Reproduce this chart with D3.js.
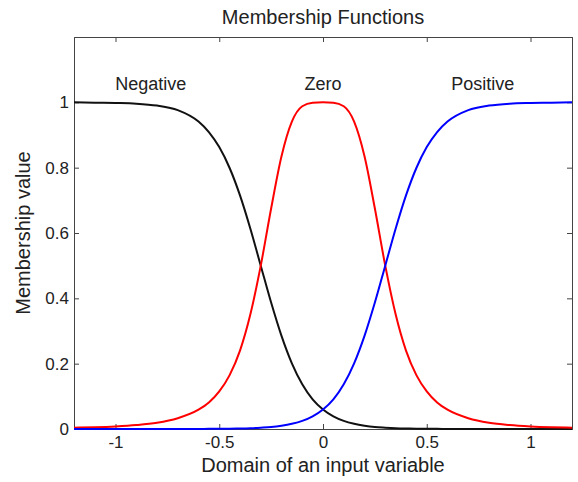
<!DOCTYPE html>
<html>
<head>
<meta charset="utf-8">
<script src="https://cdn.jsdelivr.net/npm/d3@7"></script>
<style>
  body { margin: 0; background: #fff; }
  text { font-family: "Liberation Sans", Arial, sans-serif; fill: #222; }
</style>
</head>
<body>
<div id="chart"></div>
<script>
// sample points along the input domain
var xValues = [-1.2, -1.1, -1.0, -0.9, -0.8, -0.7, -0.6, -0.55, -0.5, -0.45, -0.4, -0.35, -0.3, -0.25, -0.2, -0.15, -0.1, -0.05,
  0, 0.05, 0.1, 0.15, 0.2, 0.25, 0.3, 0.35, 0.4, 0.45, 0.5, 0.55, 0.6, 0.7, 0.8, 0.9, 1.0, 1.1, 1.2];

// membership values
var negativeValues = [1.000, 0.999, 0.998, 0.996, 0.990, 0.976, 0.941, 0.909, 0.863, 0.799, 0.715, 0.613, 0.500, 0.387, 0.285, 0.201, 0.137, 0.091,
  0.060, 0.039, 0.025, 0.016, 0.010, 0.006, 0.004, 0.0025, 0.0016, 0.001, 0.0006, 0.0004, 0.0003, 0.0001, 0, 0, 0, 0, 0];
var zeroValues = [0.004, 0.0055, 0.008, 0.012, 0.019, 0.033, 0.059, 0.081, 0.115, 0.165, 0.240, 0.351, 0.500, 0.675, 0.835, 0.941, 0.988, 0.999,
  1.000, 0.999, 0.988, 0.941, 0.835, 0.675, 0.500, 0.351, 0.240, 0.165, 0.115, 0.081, 0.059, 0.033, 0.019, 0.012, 0.008, 0.0055, 0.004];
var positiveValues = [0, 0, 0, 0, 0, 0.0001, 0.0003, 0.0004, 0.0006, 0.001, 0.0016, 0.0025, 0.004, 0.006, 0.010, 0.016, 0.025, 0.039,
  0.060, 0.091, 0.137, 0.201, 0.285, 0.387, 0.500, 0.613, 0.715, 0.799, 0.863, 0.909, 0.941, 0.976, 0.990, 0.996, 0.998, 0.999, 1.000];

var seriesNames = ["Negative", "Zero", "Positive"];
var seriesColors = ["#111111", "#ff0000", "#0000ff"];
var labelX = [-0.83, 0, 0.77];
var xTicks = [-1, -0.5, 0, 0.5, 1];
var yTicks = [0, 0.2, 0.4, 0.6, 0.8, 1];

var margin = {top: 37, right: 6, bottom: 53, left: 74},
    width = 578 - margin.left - margin.right,
    height = 482 - margin.top - margin.bottom;

var svg = d3.select("#chart")
  .append("svg")
  .attr("width", 578)
  .attr("height", 482)
  .append("g")
  .attr("transform", "translate(" + margin.left + "," + margin.top + ")");

var x = d3.scaleLinear().domain([-1.2, 1.2]).range([0, width]);
var y = d3.scaleLinear().domain([0, 1.2]).range([height, 0]);

// plain hyphen for negatives, like the original
var fmt = function(d) { return String(d); };

// axes with inward ticks on all four sides
svg.append("g")
  .attr("transform", "translate(0," + height + ")")
  .call(d3.axisBottom(x).tickValues(xTicks).tickSize(-5).tickPadding(7).tickFormat(fmt));
svg.append("g")
  .call(d3.axisTop(x).tickValues(xTicks).tickSize(-5).tickFormat(""));
svg.append("g")
  .call(d3.axisLeft(y).tickValues(yTicks).tickSize(-5).tickPadding(5).tickFormat(fmt));
svg.append("g")
  .attr("transform", "translate(" + width + ",0)")
  .call(d3.axisRight(y).tickValues(yTicks).tickSize(-5).tickFormat(""));

svg.selectAll(".domain").attr("stroke", "#444").attr("stroke-width", 1);
svg.selectAll(".tick line").attr("stroke", "#444");
svg.selectAll(".tick text").attr("font-size", 17).style("fill", "#222")
  .attr("font-family", "Liberation Sans, Arial, sans-serif");

var allValues = [negativeValues, zeroValues, positiveValues];
var line = d3.line()
  .x(function(d) { return x(d[0]); })
  .y(function(d) { return y(d[1]); })
  .curve(d3.curveMonotoneX);

allValues.forEach(function(vals, i) {
  svg.append("path")
    .datum(xValues.map(function(xv, j) { return [xv, vals[j]]; }))
    .attr("fill", "none")
    .attr("stroke", seriesColors[i])
    .attr("stroke-width", 2)
    .attr("d", line);
});

// curve labels
svg.selectAll(".mf-label")
  .data(seriesNames)
  .enter().append("text")
  .attr("class", "mf-label")
  .attr("x", function(d, i) { return x(labelX[i]); })
  .attr("y", y(1.037))
  .attr("text-anchor", "middle")
  .attr("font-size", 18)
  .text(function(d) { return d; });

// title and axis titles
svg.append("text")
  .attr("x", width / 2)
  .attr("y", -13)
  .attr("text-anchor", "middle")
  .attr("font-size", 20)
  .text("Membership Functions");

svg.append("text")
  .attr("x", width / 2)
  .attr("y", height + 43)
  .attr("text-anchor", "middle")
  .attr("font-size", 20)
  .text("Domain of an input variable");

svg.append("text")
  .attr("transform", "rotate(-90)")
  .attr("x", -height / 2)
  .attr("y", -44)
  .attr("text-anchor", "middle")
  .attr("font-size", 20)
  .text("Membership value");
</script>
</body>
</html>
